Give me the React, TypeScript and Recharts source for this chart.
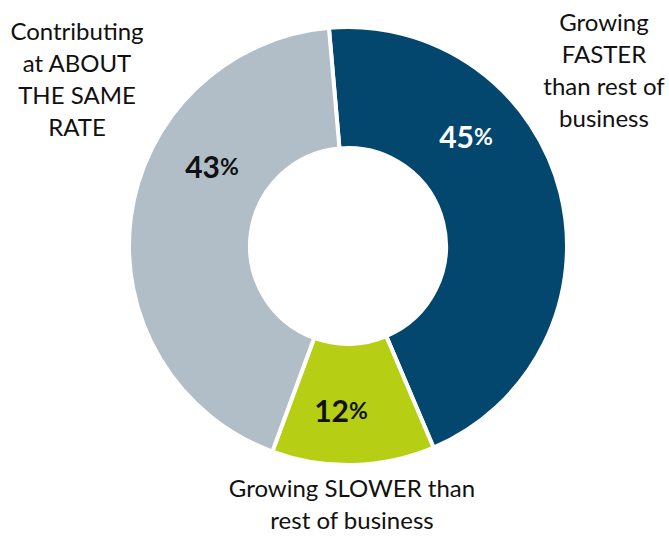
import React from "react";
import { PieChart, Pie, Cell } from "recharts";

const CATEGORIES = [
  "Growing FASTER than rest of business",
  "Growing SLOWER than rest of business",
  "Contributing at ABOUT THE SAME RATE",
];
const SHARES = [45, 12, 43];

// wrapped category text, one entry per slice
const NAME_LINES = [
  ["Growing", "FASTER", "than rest of", "business"],
  ["Growing SLOWER than", "rest of business"],
  ["Contributing", "at ABOUT", "THE SAME", "RATE"],
];

const COLORS = ["#03476F", "#B6CF15", "#B1BDC7"];
const PCT_COLORS = ["#ffffff", "#111111", "#111111"];

// hand placement of the labels, relative to the pie centre
const PCT_POS = [
  { dx: 118, dy: -110 },
  { dx: -7, dy: 164 },
  { dx: -136, dy: -80 },
];
const NAME_POS = [
  { dx: 256, dy: -215 },
  { dx: 4, dy: 251 },
  { dx: -271, dy: -206 },
];

const data = CATEGORIES.map((name, i) => ({ name, value: SHARES[i] }));

const FONT = "Lato, 'Open Sans', sans-serif";

const renderLabel = (props: any) => {
  const { cx, cy, index, value } = props;
  const p = PCT_POS[index];
  const n = NAME_POS[index];
  return (
    <g>
      <text
        x={cx + p.dx}
        y={cy + p.dy}
        textAnchor="middle"
        dominantBaseline="central"
        fontFamily={FONT}
        fontWeight="bold"
        fill={PCT_COLORS[index]}
      >
        <tspan fontSize={30}>{value}</tspan>
        <tspan fontSize={23}>%</tspan>
      </text>
      <text
        x={cx + n.dx}
        y={cy + n.dy}
        textAnchor="middle"
        fontFamily={FONT}
        fontSize={24}
        fill="#111"
      >
        {NAME_LINES[index].map((line, k) => (
          <tspan key={k} x={cx + n.dx} dy={k === 0 ? 0 : 32}>
            {line}
          </tspan>
        ))}
      </text>
    </g>
  );
};

export default function App() {
  return (
    <div style={{ position: "absolute", left: 0, top: 0 }}>
      <PieChart
        width={669}
        height={536}
        margin={{ top: 0, right: 0, bottom: 0, left: 0 }}
      >
        <Pie
          data={data}
          dataKey="value"
          nameKey="name"
          cx={348}
          cy={246}
          innerRadius={98}
          outerRadius={219}
          startAngle={95}
          endAngle={-265}
          stroke="#ffffff"
          strokeWidth={4}
          labelLine={false}
          label={renderLabel}
          isAnimationActive={false}
        >
          {data.map((entry, index) => (
            <Cell key={`cell-${index}`} fill={COLORS[index % COLORS.length]} />
          ))}
        </Pie>
      </PieChart>
    </div>
  );
}
